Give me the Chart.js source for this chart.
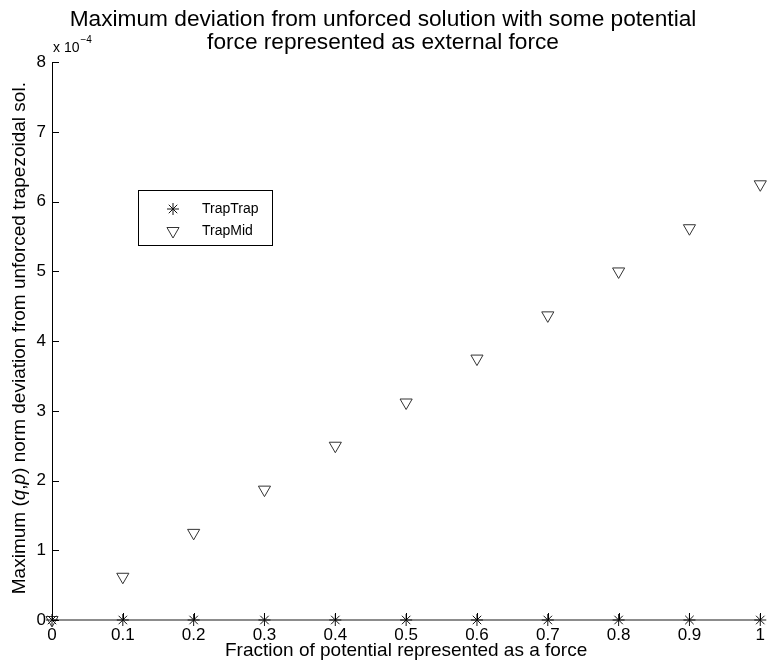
<!DOCTYPE html>
<html>
<head>
<meta charset="utf-8">
<script src="https://cdn.jsdelivr.net/npm/chart.js@4.4.0/dist/chart.umd.min.js"></script>
<style>
  html, body { margin: 0; padding: 0; background: #fff; }
  #wrap { width: 770px; height: 665px; }
</style>
</head>
<body>
<div id="wrap"><canvas id="c" width="770" height="665"></canvas></div>
<script>
// fraction of the potential treated as an external force
const fractions = [0, 0.1, 0.2, 0.3, 0.4, 0.5, 0.6, 0.7, 0.8, 0.9, 1];
// max (q,p) norm deviation
const trapTrap = [0, 0, 0, 0, 0, 0, 0, 0, 0, 0, 0];
const trapMid = [0, 0.62e-4, 1.25e-4, 1.87e-4, 2.5e-4, 3.12e-4, 3.75e-4, 4.37e-4, 5.0e-4, 5.62e-4, 6.25e-4];
const seriesNames = ['TrapTrap', 'TrapMid'];
const titleLines = ['Maximum deviation from unforced solution with some potential', 'force represented as external force'];
const xLabel = 'Fraction of potential represented as a force';

const FONT = '"Liberation Sans", Arial, Helvetica, sans-serif';

const pts = (ys) => fractions.map((x, i) => ({ x: x, y: ys[i] }));

// ticks pointing into the plot, matlab style
const inwardTicks = {
  id: 'inwardTicks',
  afterDatasetsDraw(chart) {
    const { ctx, chartArea, scales } = chart;
    ctx.save();
    ctx.strokeStyle = '#000';
    ctx.lineWidth = 1;
    ctx.beginPath();
    scales.x.ticks.forEach(t => {
      const px = Math.round(scales.x.getPixelForValue(t.value)) + 0.5;
      ctx.moveTo(px, chartArea.bottom);
      ctx.lineTo(px, chartArea.bottom - 7);
    });
    scales.y.ticks.forEach(t => {
      const py = Math.round(scales.y.getPixelForValue(t.value)) + 0.5;
      ctx.moveTo(chartArea.left, py);
      ctx.lineTo(chartArea.left + 7, py);
    });
    ctx.stroke();

    // exponent label above the y axis
    ctx.fillStyle = '#000';
    ctx.textBaseline = 'alphabetic';
    ctx.textAlign = 'left';
    ctx.font = '14px ' + FONT;
    ctx.fillText('x 10', chartArea.left + 1, chartArea.top - 10);
    const w = ctx.measureText('x 10').width;
    ctx.font = '10px ' + FONT;
    ctx.fillText('\u22124', chartArea.left + 1 + w + 1, chartArea.top - 19);
    ctx.restore();
  }
};

// y label has italic q and p, so draw it piece by piece
const yTitle = {
  id: 'yTitle',
  afterDraw(chart) {
    const { ctx, chartArea } = chart;
    const parts = [
      ['Maximum (', false], ['q', true], [',', false], ['p', true],
      [') norm deviation from unforced trapezoidal sol.', false]
    ];
    ctx.save();
    const size = 19;
    let total = 0;
    parts.forEach(p => {
      ctx.font = (p[1] ? 'italic ' : '') + size + 'px ' + FONT;
      total += ctx.measureText(p[0]).width;
    });
    ctx.translate(20, (chartArea.top + chartArea.bottom) / 2 - 3);
    ctx.rotate(-Math.PI / 2);
    ctx.fillStyle = '#000';
    ctx.textBaseline = 'middle';
    ctx.textAlign = 'left';
    let x = -total / 2;
    parts.forEach(p => {
      ctx.font = (p[1] ? 'italic ' : '') + size + 'px ' + FONT;
      ctx.fillText(p[0], x, 0);
      x += ctx.measureText(p[0]).width;
    });
    ctx.restore();
  }
};

// legend box inside the plot
const boxLegend = {
  id: 'boxLegend',
  afterDraw(chart) {
    const { ctx } = chart;
    const x0 = 138, y0 = 190, w = 134, h = 55;
    ctx.save();
    ctx.fillStyle = '#fff';
    ctx.fillRect(x0, y0, w, h);
    ctx.strokeStyle = '#000';
    ctx.lineWidth = 1;
    ctx.strokeRect(x0 + 0.5, y0 + 0.5, w, h);
    ctx.font = '14px ' + FONT;
    ctx.textBaseline = 'middle';
    chart.data.datasets.forEach((ds, i) => {
      const cy = y0 + 19 + i * 22;
      ctx.fillStyle = 'rgba(0,0,0,0)';
      ctx.strokeStyle = ds.borderColor;
      ctx.lineWidth = ds.borderWidth;
      Chart.helpers.drawPoint(ctx, {
        pointStyle: ds.pointStyle,
        radius: ds.pointRadius,
        rotation: ds.rotation || 0,
        borderWidth: ds.borderWidth
      }, 173, cy);
      ctx.fillStyle = '#000';
      ctx.fillText(ds.label, 202, cy);
    });
    ctx.restore();
  }
};

new Chart(document.getElementById('c'), {
  type: 'scatter',
  data: {
    datasets: [
      {
        label: seriesNames[0],
        data: pts(trapTrap),
        pointStyle: 'star',
        pointRadius: 6,
        borderColor: '#111',
        backgroundColor: 'rgba(0,0,0,0)',
        borderWidth: 1,
        clip: false
      },
      {
        label: seriesNames[1],
        data: pts(trapMid),
        pointStyle: 'triangle',
        rotation: 180,
        pointRadius: 7,
        borderColor: '#333',
        backgroundColor: 'rgba(0,0,0,0)',
        borderWidth: 1,
        clip: false
      }
    ]
  },
  options: {
    responsive: false,
    animation: false,
    layout: { padding: { left: 0, right: 4, top: 0, bottom: 0 } },
    elements: { point: { hoverRadius: 7 } },
    plugins: {
      legend: { display: false },
      tooltip: { enabled: false },
      title: {
        display: true,
        text: titleLines,
        color: '#000',
        font: { family: FONT, size: 22.7, weight: 'normal', lineHeight: 1.02 },
        padding: { top: 8, bottom: 8 }
      }
    },
    scales: {
      x: {
        type: 'linear',
        min: 0,
        max: 1,
        grid: { display: false, drawTicks: false },
        border: { display: true, color: '#8c8c8c', width: 2 },
        ticks: {
          stepSize: 0.1,
          padding: 5,
          color: '#000',
          font: { family: FONT, size: 17 },
          maxRotation: 0,
          callback: v => String(+v.toFixed(1))
        },
        title: {
          display: true,
          text: xLabel,
          color: '#000',
          font: { family: FONT, size: 19, lineHeight: 1 },
          padding: { top: 0, bottom: 5 }
        },
        afterFit: s => { s.height = 45; }
      },
      y: {
        type: 'linear',
        min: 0,
        max: 8e-4,
        grid: { display: false, drawTicks: false },
        border: { display: true, color: '#000', width: 1 },
        ticks: {
          stepSize: 1e-4,
          padding: 6,
          color: '#000',
          font: { family: FONT, size: 17 },
          callback: v => String(Math.round(v * 1e4))
        },
        afterFit: s => { s.width = 52; }
      }
    }
  },
  plugins: [inwardTicks, yTitle, boxLegend]
});
</script>
</body>
</html>
